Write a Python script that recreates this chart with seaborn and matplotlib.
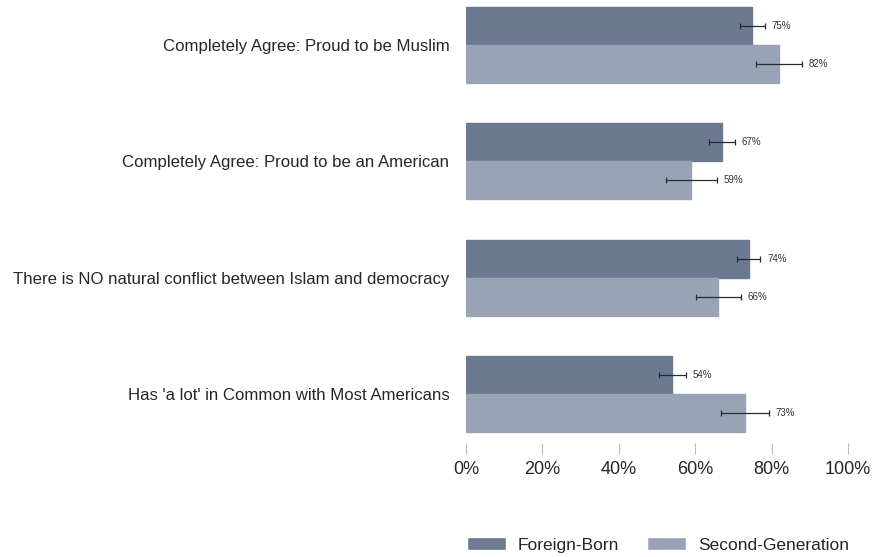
import matplotlib
matplotlib.use("Agg")
import matplotlib.pyplot as plt
import seaborn as sns
import pandas as pd
import numpy as np

categories = [
    "Completely Agree: Proud to be Muslim",
    "Completely Agree: Proud to be an American",
    "There is NO natural conflict between Islam and democracy",
    "Has 'a lot' in Common with Most Americans",
]
groups = ["Foreign-Born", "Second-Generation"]
foreign_born = [75, 67, 74, 54]
second_gen = [82, 59, 66, 73]
foreign_err = [3.2, 3.4, 3.1, 3.5]
second_err = [6.0, 6.7, 5.9, 6.3]
xticks = [0, 20, 40, 60, 80, 100]
xtick_labels = ["0%", "20%", "40%", "60%", "80%", "100%"]

colors = ["#6b7a90", "#98a4b6"]

sns.set_theme(style="white")
plt.rcParams["font.family"] = ["Liberation Sans", "DejaVu Sans"]

df = pd.DataFrame({
    "category": categories * 2,
    "group": [groups[0]] * 4 + [groups[1]] * 4,
    "value": foreign_born + second_gen,
})

fig = plt.figure(figsize=(8.74, 5.57), dpi=100)
ax = fig.add_axes([0.5332, 0.2047, 0.437, 0.7953])

sns.barplot(data=df, y="category", x="value", hue="group", order=categories,
            hue_order=groups, palette=colors, width=0.655, orient="h",
            errorbar=None, ax=ax, saturation=1, legend=True)

errs = [foreign_err, second_err]
vals = [foreign_born, second_gen]
bar_containers = list(ax.containers)
for ci, cont in enumerate(bar_containers):
    for bi, patch in enumerate(cont.patches):
        patch.set_edgecolor(colors[ci])
        yc = patch.get_y() + patch.get_height() / 2
        v = vals[ci][bi]
        e = errs[ci][bi]
        ax.errorbar(v, yc, xerr=e, fmt="none", ecolor="#2b2b2b", elinewidth=0.9,
                    capsize=2, capthick=0.9)
        ax.text(v + e + 1.8, yc, f"{v}%", va="center", ha="left", fontsize=7,
                color="#333333")

ax.set_xlim(0, 100)
ax.set_ylim(3.42, -0.387)
ax.set_xticks(xticks)
ax.set_xticklabels(xtick_labels, fontsize=13)
ax.tick_params(axis="x", length=8, width=0.8, color="#bbbbbb", pad=5, bottom=True)
ax.tick_params(axis="y", length=0, pad=12, labelsize=12.1)
ax.set_xlabel("")
ax.set_ylabel("")
for s in ax.spines.values():
    s.set_visible(False)

handles, labels = ax.get_legend_handles_labels()
ax.get_legend().remove()
fig.legend(handles, labels, loc="center", bbox_to_anchor=(0.753, 0.022), ncol=2,
           frameon=False, fontsize=12.5, handlelength=2.25, handleheight=0.8,
           columnspacing=1.6, handletextpad=0.7)

fig.savefig("out.png", dpi=100)
